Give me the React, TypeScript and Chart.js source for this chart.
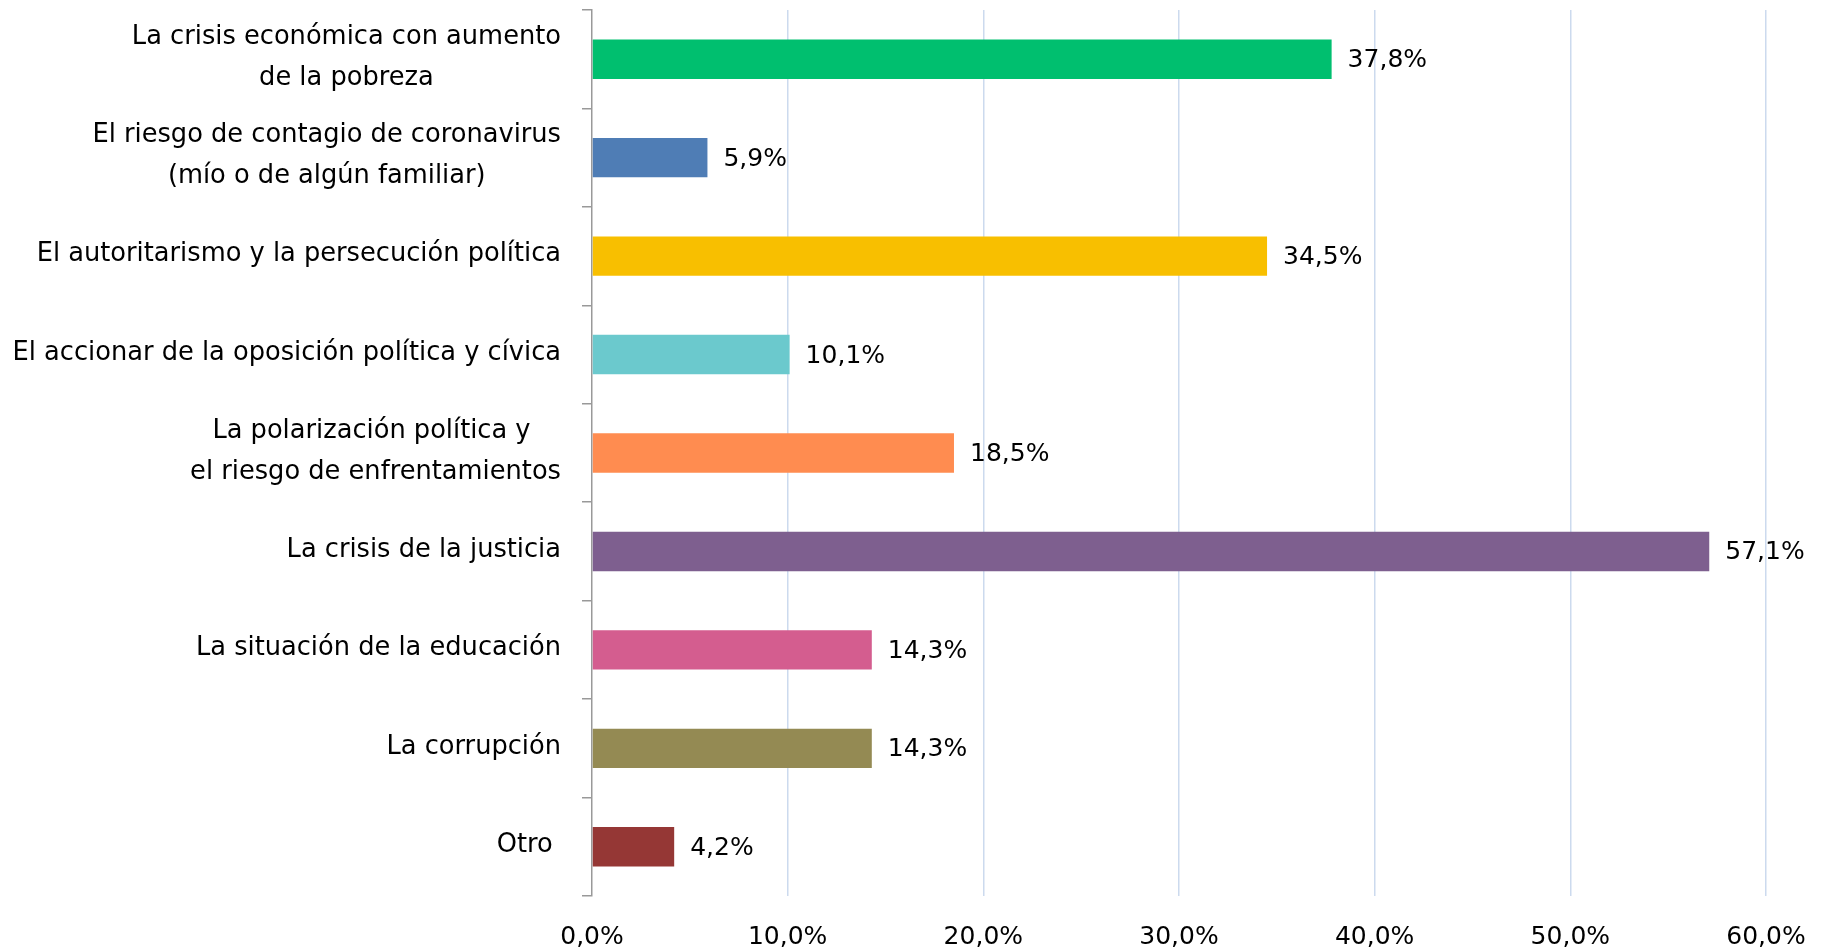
import React, { useEffect, useRef } from "react";
import { Chart, registerables } from "chart.js";

Chart.register(...registerables);

const categories: string[][] = [
  ["La crisis económica con aumento", "de la pobreza"],
  ["El riesgo de contagio de coronavirus", "(mío o de algún familiar)"],
  ["El autoritarismo y la persecución política"],
  ["El accionar de la oposición política y cívica"],
  ["La polarización política y ", "el riesgo de enfrentamientos"],
  ["La crisis de la justicia"],
  ["La situación de la educación"],
  ["La corrupción"],
  ["Otro "],
];

const values: number[] = [37.8, 5.9, 34.5, 10.1, 18.5, 57.1, 14.3, 14.3, 4.2];

const barColors: string[] = [
  "#00bf6f",
  "#4f7db5",
  "#f8bf00",
  "#6bc9cd",
  "#ff8c50",
  "#7e5f8f",
  "#d45d8f",
  "#948a53",
  "#953735",
];

const xTicks: number[] = [0, 10, 20, 30, 40, 50, 60];

const FONT_FAMILY = "'DejaVu Sans', Verdana, sans-serif";
const FONT_SIZE = 25;
const CAT_FONT_SIZE = 25.7;
const fmt = (v: number) => v.toFixed(1).replace(".", ",") + "%";

const labelPlugin = {
  id: "customLabels",
  afterDraw(chart: any) {
    const ctx = chart.ctx;
    const yScale = chart.scales.y;
    ctx.save();
    ctx.font = `${CAT_FONT_SIZE}px ${FONT_FAMILY}`;
    ctx.fillStyle = "#000";
    ctx.textBaseline = "middle";
    ctx.textAlign = "center";
    const rightEdge = yScale.right - 31;
    const lineH = 41;
    categories.forEach((lines, i) => {
      const cy = yScale.getPixelForValue(i) - 1.5;
      const w = Math.max(...lines.map((l) => ctx.measureText(l).width));
      const cx = rightEdge - w / 2;
      const startY = cy - ((lines.length - 1) * lineH) / 2;
      lines.forEach((l, j) => {
        ctx.fillText(l, cx, startY + j * lineH);
      });
    });
    // data labels
    ctx.font = `${FONT_SIZE}px ${FONT_FAMILY}`;
    const meta = chart.getDatasetMeta(0);
    ctx.textAlign = "left";
    meta.data.forEach((bar: any, i: number) => {
      ctx.fillText(fmt(values[i]), bar.x + 16, bar.y + 1.5);
    });
    ctx.restore();
  },
};

export default function App() {
  const ref = useRef<HTMLCanvasElement>(null);
  useEffect(() => {
    document.body.style.margin = "0";
    const chart = new Chart(ref.current!, {
      type: "bar",
      data: {
        labels: categories.map((c) => c.join(" ")),
        datasets: [
          {
            data: values,
            backgroundColor: barColors,
            barPercentage: 0.4,
            categoryPercentage: 1,
          },
        ],
      },
      options: {
        indexAxis: "y",
        animation: false,
        responsive: false,
        maintainAspectRatio: false,
        layout: { padding: { top: 10, right: 56, left: 0, bottom: 0 } },
        plugins: {
          legend: { display: false },
          tooltip: { enabled: false },
        },
        scales: {
          x: {
            min: 0,
            max: 60,
            afterBuildTicks: (scale: any) => {
              scale.ticks = xTicks.map((v) => ({ value: v }));
            },
            afterFit: (scale: any) => {
              scale.height = 55;
              scale.paddingLeft = 0;
              scale.paddingRight = 0;
            },
            border: { display: false },
            grid: {
              color: (c: any) => (c.index === 0 ? "rgba(0,0,0,0)" : "#ccdaee"),
              lineWidth: 1.5,
              drawTicks: false,
            },
            ticks: {
              padding: 26,
              color: "#000",
              font: { family: FONT_FAMILY, size: FONT_SIZE },
              callback: (v: any) => fmt(Number(v)),
              maxRotation: 0,
            },
          },
          y: {
            afterFit: (scale: any) => {
              scale.width = 592;
            },
            border: { display: true, color: "#999", width: 1.5 },
            grid: {
              display: true,
              drawOnChartArea: false,
              drawTicks: true,
              tickLength: 10,
              color: "#999",
              lineWidth: 1.5,
              offset: true,
            },
            ticks: { display: false },
          },
        },
      },
      plugins: [labelPlugin],
    });
    return () => chart.destroy();
  }, []);
  return (
    <div style={{ width: 1822, height: 951 }}>
      <canvas ref={ref} width={1822} height={951} style={{ display: "block" }} />
    </div>
  );
}
